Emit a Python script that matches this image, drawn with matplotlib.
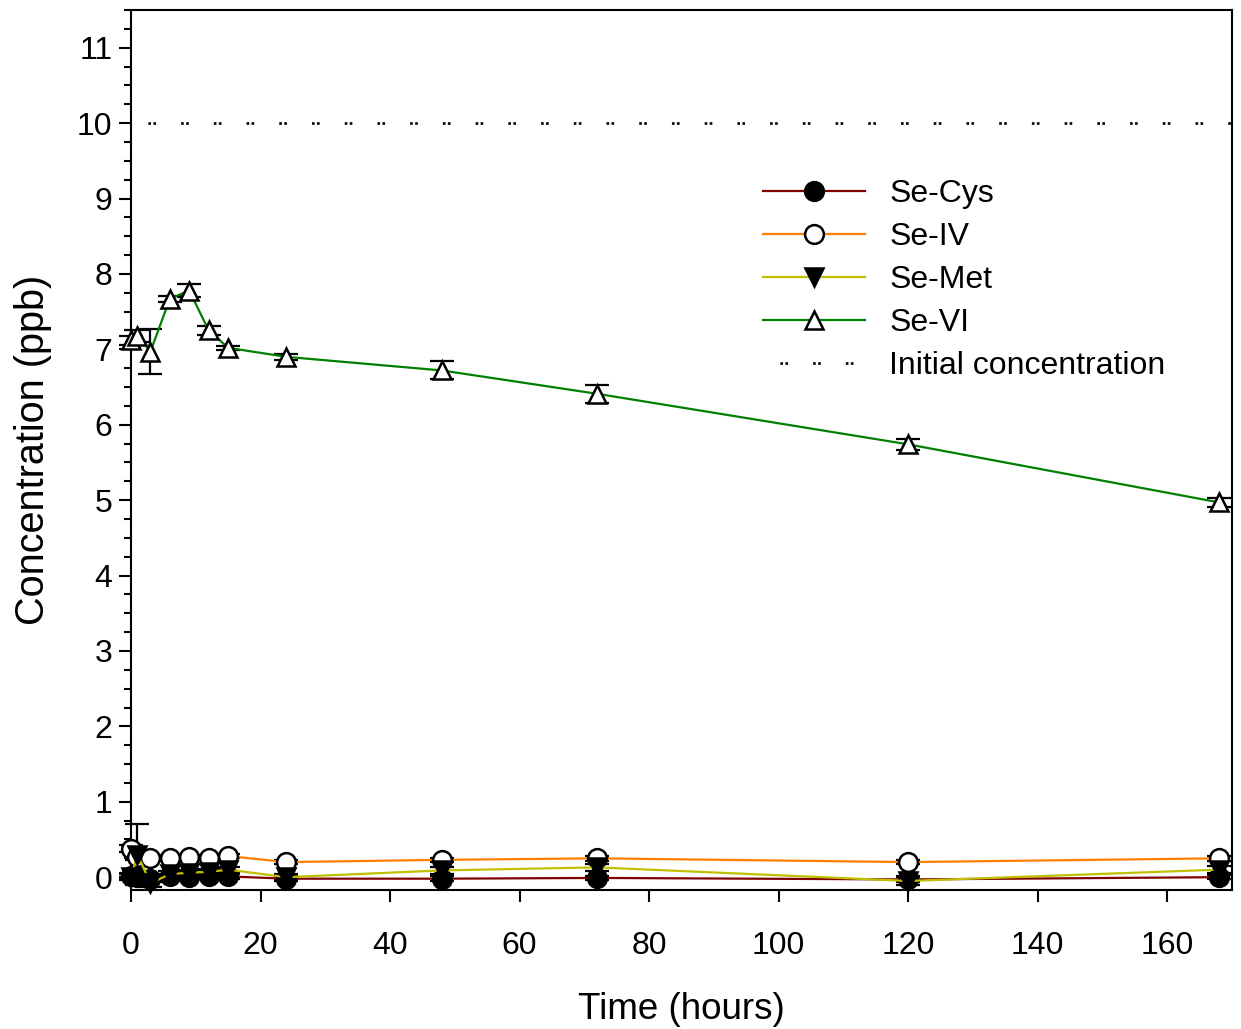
import matplotlib
matplotlib.use("Agg")
import matplotlib.pyplot as plt
from matplotlib.ticker import MultipleLocator

plt.rcParams['font.family'] = ['Liberation Sans', 'DejaVu Sans']

time_h = [0, 1, 3, 6, 9, 12, 15, 24, 48, 72, 120, 168]

se_cys = [0.02, 0.00, -0.02, 0.01, 0.00, 0.01, 0.01, -0.02, -0.02, -0.01, -0.03, 0.00]
se_cys_err = [0.04, 0.03, 0.04, 0.03, 0.03, 0.03, 0.03, 0.03, 0.03, 0.03, 0.03, 0.03]

se_iv = [0.38, 0.27, 0.26, 0.25, 0.27, 0.26, 0.28, 0.20, 0.23, 0.25, 0.20, 0.25]
se_iv_err = [0.05, 0.04, 0.03, 0.03, 0.03, 0.03, 0.03, 0.03, 0.03, 0.03, 0.03, 0.03]

se_met = [0.00, 0.30, -0.08, 0.04, 0.06, 0.07, 0.10, 0.00, 0.09, 0.13, -0.05, 0.10]
se_met_err = [0.04, 0.40, 0.05, 0.04, 0.04, 0.04, 0.04, 0.04, 0.05, 0.05, 0.06, 0.05]

se_vi = [7.12, 7.18, 6.97, 7.67, 7.78, 7.25, 7.02, 6.90, 6.72, 6.41, 5.74, 4.97]
se_vi_err = [0.06, 0.08, 0.30, 0.04, 0.09, 0.06, 0.03, 0.04, 0.12, 0.12, 0.07, 0.06]

initial_conc = 10.0

series = [
    ("Se-Cys", se_cys, se_cys_err, "#800000", "o", "black"),
    ("Se-IV", se_iv, se_iv_err, "#FF8000", "o", "white"),
    ("Se-Met", se_met, se_met_err, "#C0C000", "v", "black"),
    ("Se-VI", se_vi, se_vi_err, "#008000", "^", "white"),
]

fig = plt.figure(figsize=(12.41, 10.29), dpi=100)
ax = fig.add_axes([131 / 1241, 1 - 890 / 1029, (1232 - 131) / 1241, (890 - 10) / 1029])

ms = 13.5
for name, vals, errs, col, mk, fc in series:
    ax.errorbar(time_h, vals, yerr=errs, fmt='none', ecolor='black', elinewidth=1.6,
                capsize=8.5, capthick=1.6, zorder=2, clip_on=False)
    ax.plot(time_h, vals, color=col, lw=1.6, marker=mk, markersize=ms,
            markerfacecolor=fc, markeredgecolor='black', markeredgewidth=1.8,
            label=name, zorder=3, clip_on=False)

ax.plot([0, 170], [initial_conc, initial_conc], color='black', lw=1.9,
        linestyle=(6, (1.0, 0.9, 1.0, 9.5)), dash_capstyle='butt',
        label="Initial concentration", zorder=2)

ax.set_xlim(0, 170)
ax.set_ylim(-0.17, 11.5)
ax.xaxis.set_major_locator(MultipleLocator(20))
ax.yaxis.set_major_locator(MultipleLocator(1))
ax.yaxis.set_minor_locator(MultipleLocator(0.25))

for s in ax.spines.values():
    s.set_linewidth(1.5)

ax.tick_params(axis='both', which='major', direction='out', length=8.5, width=1.5,
               labelsize=23, pad=5)
ax.tick_params(axis='x', which='major', pad=21)
ax.tick_params(axis='y', which='minor', direction='out', length=5, width=1.5)
ax.tick_params(axis='x', which='minor', bottom=False)

ax.set_xlabel("Time (hours)", fontsize=26.5, labelpad=22)
ax.set_ylabel("Concentration (ppb)", fontsize=28.5, labelpad=18)

leg = ax.legend(loc='upper left', bbox_to_anchor=(0.574, 0.808), frameon=False,
                fontsize=23, handlelength=3.2, handletextpad=0.75, labelspacing=0.41,
                borderpad=0, borderaxespad=0, numpoints=1)

fig.savefig("out.png", dpi=100)
